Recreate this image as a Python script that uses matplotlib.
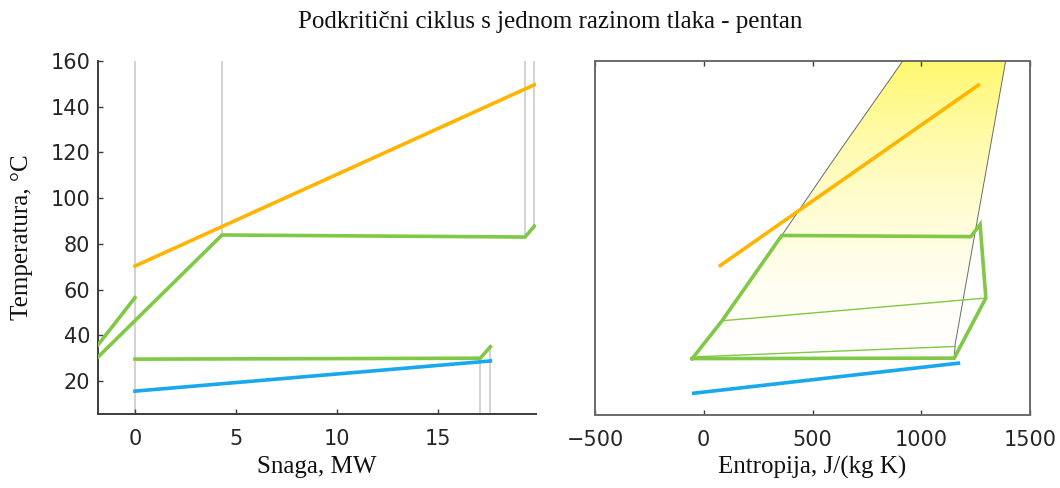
import numpy as np
import matplotlib
matplotlib.use("Agg")
import matplotlib.pyplot as plt
from matplotlib.patches import Polygon

# ---------------- data ----------------
title = "Podkritični ciklus s jednom razinom tlaka - pentan"
xlabel_left = "Snaga, MW"
xlabel_right = "Entropija, J/(kg K)"
ylabel = "Temperatura, °C"

# Left panel (Q-T diagram), Q in MW, T in °C
hot_Q = [0.0, 19.77]
hot_T = [70.3, 149.6]
wf_main_Q = [-1.83, 4.31, 19.31, 19.77]
wf_main_T = [30.5, 83.9, 83.0, 87.8]
wf_rec_Q = [-1.83, 0.0]
wf_rec_T = [35.8, 56.5]
wf_cond_Q = [0.0, 17.09, 17.59]
wf_cond_T = [29.6, 30.0, 35.0]
cool_Q = [0.0, 17.59]
cool_T = [15.6, 28.8]

# Right panel (T-s diagram), s in J/(kg K)
hot_s = [76, 1263]
hot_sT = [70.8, 149.5]
cycle_s = [-53, 84, 358.7, 1228, 1270.6, 1297, 1151.5, -53]
cycle_T = [30.2, 46.7, 83.9, 83.4, 88.7, 56.6, 30.4, 30.2]
rec_hi_s = [84, 1297]
rec_hi_T = [46.7, 56.6]
rec_lo_s = [-30, 1156]
rec_lo_T = [31.0, 35.5]
cool_s = [-46, 1171]
cool_sT = [15.1, 28.2]
sat_l_s = [358.7, 595, 915]
sat_l_T = [83.9, 116.7, 160.0]
sat_v_s = [1388, 1156, 1151.5]
sat_v_T = [160.0, 36.5, 30.4]

left_xticks = [0, 5, 10, 15]
left_yticks = [20, 40, 60, 80, 100, 120, 140, 160]
right_xticks = [-500, 0, 500, 1000, 1500]

# ---------------- style ----------------
ORANGE = "#FFB400"
GREEN = "#80C846"
BLUE = "#18A8EC"
VGRAY = "#C8C8C8"
LW = 2.6
ylim = (5.6, 160)

plt.rcParams['font.family'] = ['DejaVu Sans']
SERIF = ['Liberation Serif', 'DejaVu Serif']

fig = plt.figure(figsize=(10.6, 4.88), dpi=100)
axL = fig.add_axes([98/1060, 1-414/488, 438/1060, 353/488])
axR = fig.add_axes([595/1060, 1-415/488, 435/1060, 354/488])

# ----- left panel -----
axL.set_xlim(-1.83, 19.85)
axL.set_ylim(*ylim)
# gray guide lines
axL.vlines(0, ylim[0], ylim[1], color=VGRAY, lw=1.1, zorder=1)
axL.vlines(wf_main_Q[1], wf_main_T[1], ylim[1], color=VGRAY, lw=1.1, zorder=1)
axL.vlines(wf_main_Q[2], wf_main_T[2], ylim[1], color=VGRAY, lw=1.1, zorder=1)
axL.vlines(wf_main_Q[3], wf_main_T[3], ylim[1], color=VGRAY, lw=1.1, zorder=1)
axL.vlines(wf_cond_Q[1], ylim[0], wf_cond_T[1], color=VGRAY, lw=1.1, zorder=1)
axL.vlines(wf_cond_Q[2], ylim[0], wf_cond_T[2], color=VGRAY, lw=1.1, zorder=1)

axL.plot(hot_Q, hot_T, color=ORANGE, lw=LW, zorder=3)
axL.plot(wf_main_Q, wf_main_T, color=GREEN, lw=LW, zorder=3)
axL.plot(wf_rec_Q, wf_rec_T, color=GREEN, lw=LW, zorder=3)
axL.plot(wf_cond_Q, wf_cond_T, color=GREEN, lw=LW, zorder=3)
axL.plot(cool_Q, cool_T, color=BLUE, lw=LW, zorder=3)

for s in ['top', 'right']:
    axL.spines[s].set_visible(False)
for s in ['left', 'bottom']:
    axL.spines[s].set_color('#3c3c3c')
    axL.spines[s].set_linewidth(1.4)
axL.set_xticks(left_xticks)
axL.set_yticks(left_yticks)
axL.tick_params(axis='both', direction='in', length=3.5, width=1.0,
                color='#3c3c3c', labelsize=15, labelcolor='#262626')
axL.tick_params(axis='x', pad=10.5)
axL.tick_params(axis='y', pad=5.5)

axL.set_xlabel(xlabel_left, family=SERIF, fontsize=18, color='#111111')
axL.xaxis.set_label_coords(0.5, (414-467)/353)
axL.xaxis.label.set_va('center')
axL.set_ylabel(ylabel, family=SERIF, fontsize=18, color='#111111')
axL.yaxis.set_label_coords((22-98)/438, 0.5)
axL.yaxis.label.set_va('center')

# ----- right panel -----
axR.set_xlim(-500, 1500)
axR.set_ylim(*ylim)

# gradient fill region
poly_s = [cycle_s[0], cycle_s[1]] + sat_l_s + sat_v_s + [cycle_s[0]]
poly_T = [cycle_T[0], cycle_T[1]] + sat_l_T + sat_v_T + [cycle_T[0]]
poly = Polygon(np.column_stack([poly_s, poly_T]), closed=True,
               facecolor='none', edgecolor='none', transform=axR.transData)
axR.add_patch(poly)
Ty = np.linspace(ylim[0], ylim[1], 300)
f = np.clip((Ty - 15) / 145, 0, 1) ** 2.0
img = np.zeros((300, 2, 3))
img[:, :, 0] = 1.0
img[:, :, 1] = (1 - f * (1 - 248/255))[:, None]
img[:, :, 2] = (1 - f * (1 - 110/255))[:, None]
im = axR.imshow(img, extent=[-500, 1500, ylim[0], ylim[1]], origin='lower',
                aspect='auto', zorder=0, interpolation='bilinear')
im.set_clip_path(poly)

axR.plot(sat_l_s, sat_l_T, color='#6a6a6a', lw=0.7, zorder=1)
axR.plot(sat_v_s, sat_v_T, color='#6a6a6a', lw=0.7, zorder=1)
axR.plot(rec_hi_s, rec_hi_T, color=GREEN, lw=1.0, zorder=2)
axR.plot(rec_lo_s, rec_lo_T, color=GREEN, lw=1.0, zorder=2)
axR.plot(hot_s, hot_sT, color=ORANGE, lw=LW, zorder=3)
axR.plot(cycle_s, cycle_T, color=GREEN, lw=LW, zorder=3, solid_joinstyle='miter')
axR.plot(cool_s, cool_sT, color=BLUE, lw=LW, zorder=3)

for s in axR.spines.values():
    s.set_color('#6a6a6a')
    s.set_linewidth(1.4)
axR.set_xticks(right_xticks)
axR.set_yticks([])
axR.tick_params(axis='x', direction='in', length=3.5, width=1.0, top=True,
                color='#3c3c3c', labelsize=15, labelcolor='#262626', pad=10.5)
axR.set_xlabel(xlabel_right, family=SERIF, fontsize=18, color='#111111')
axR.xaxis.set_label_coords(0.5, (415-467)/354)
axR.xaxis.label.set_va('center')

fig.text(550/1060, 1-22/488, title, family=SERIF, fontsize=18,
         ha='center', va='center', color='#111111')

fig.savefig("out.png", dpi=100)
